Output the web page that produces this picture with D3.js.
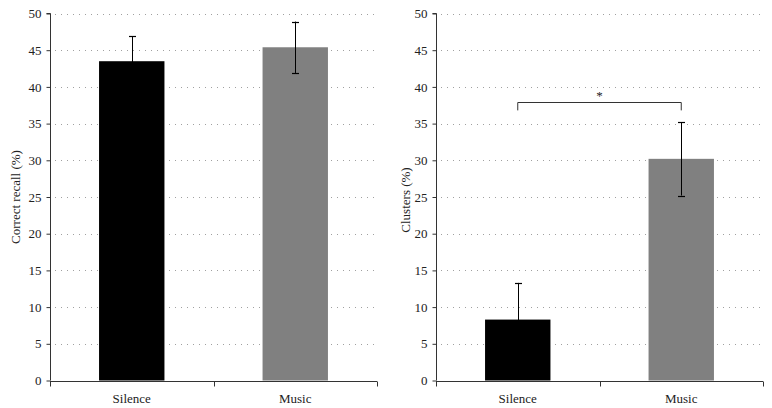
<!DOCTYPE html>
<html><head><meta charset="utf-8">
<script src="https://cdn.jsdelivr.net/npm/d3@7"></script>
<style>body{margin:0;background:#fff}svg{display:block}svg text{font-family:"Liberation Serif","Times New Roman",Times,serif !important;fill:#222}</style>
</head><body><svg id="c" width="772" height="408"></svg>
<script>
const categories = ["Silence", "Music"];
const recallMeans = [43.5, 45.4];
const recallErrors = [3.4, 3.5];
const clusterMeans = [8.3, 30.2];
const clusterErrors = [5.0, 5.0];
const yTicks = [0, 5, 10, 15, 20, 25, 30, 35, 40, 45, 50];
const barColors = ["#000000", "#808080"];
const panelTitles = ["Correct recall (%)", "Clusters (%)"];
const significance = {label: "*", level: 38, drop: 1.2};

const svg = d3.select("#c");
const FONT = '"Liberation Serif","Times New Roman",Times,serif';

function panel(x0, x1, means, errs, title, labelX, labelY, sig) {
  const y = d3.scaleLinear().domain([0, 50]).range([380.5, 13.5]);
  const x = d3.scaleBand().domain(categories).range([x0, x1]).paddingInner(0).paddingOuter(0);
  const g = svg.append("g");
  g.selectAll("line.grid").data(yTicks.filter(d => d > 0)).join("line")
    .attr("x1", x0 + 5).attr("x2", x1).attr("y1", d => Math.round(y(d)) + 0.5).attr("y2", d => Math.round(y(d)) + 0.5)
    .attr("stroke", "#a0a0a0").attr("stroke-width", 1).attr("stroke-dasharray", "1,5");
  const bw = x.bandwidth() * 0.4;
  g.selectAll("rect").data(means).join("rect")
    .attr("x", (d, i) => x(categories[i]) + (x.bandwidth() - bw) / 2)
    .attr("width", bw)
    .attr("y", d => y(d)).attr("height", d => y(0) - y(d))
    .attr("fill", (d, i) => barColors[i]);
  means.forEach((m, i) => {
    const cx = Math.round(x(categories[i]) + x.bandwidth() / 2) + 0.5;
    g.append("line").attr("x1", cx).attr("x2", cx).attr("y1", y(m + errs[i])).attr("y2", y(m - errs[i]))
      .attr("stroke", "#000").attr("stroke-width", 1);
    [m + errs[i], m - errs[i]].forEach(v => {
      g.append("line").attr("x1", cx - 3.5).attr("x2", cx + 3.5).attr("y1", Math.round(y(v)) + 0.5).attr("y2", Math.round(y(v)) + 0.5)
        .attr("stroke", "#000").attr("stroke-width", 1.2);
    });
  });
  const ya = g.append("g").attr("transform", `translate(${x0 + 0.5},0)`)
    .call(d3.axisLeft(y).tickValues(yTicks).tickSize(4).tickPadding(5).tickFormat(d3.format("d")));
  ya.attr("font-family", FONT);
  ya.select(".domain").attr("stroke", "#333").attr("d", `M-4,${y(50)}H0V${y(0)}`);
  ya.selectAll(".tick line").attr("stroke", "#333");
  ya.selectAll("text").style("font-size", "13px").attr("fill", "#222");
  const xa = g.append("g").attr("transform", `translate(0,${Math.round(y(0)) + 0.5})`);
  xa.append("line").attr("x1", x0).attr("x2", x1).attr("stroke", "#333");
  [x0, x0 + x.bandwidth(), x1].forEach(t => {
    xa.append("line").attr("x1", Math.round(t) + 0.5).attr("x2", Math.round(t) + 0.5).attr("y1", 0).attr("y2", 5).attr("stroke", "#333");
  });
  categories.forEach(c => {
    xa.append("text").attr("x", x(c) + x.bandwidth() / 2).attr("y", 21).attr("text-anchor", "middle")
      .style("font-size", "13px").text(c);
  });
  g.append("text").attr("transform", `translate(${labelX},${labelY}) rotate(-90)`)
    .attr("text-anchor", "middle").style("font-size", "13px").text(title);
  if (sig) {
    const c0 = x(categories[0]) + x.bandwidth() / 2, c1 = x(categories[1]) + x.bandwidth() / 2;
    const yy = Math.round(y(sig.level)) + 0.5, yl = y(sig.level - sig.drop);
    g.append("path").attr("d", `M${c0},${yl}V${yy}H${c1}V${yl}`).attr("fill", "none").attr("stroke", "#333");
    g.append("text").attr("x", (c0 + c1) / 2).attr("y", yy - 3).attr("text-anchor", "middle")
      .style("font-size", "13px").text(sig.label);
  }
}

panel(50, 377, recallMeans, recallErrors, panelTitles[0], 20, 197, null);
panel(436, 763, clusterMeans, clusterErrors, panelTitles[1], 410, 200, significance);
</script></body></html>
